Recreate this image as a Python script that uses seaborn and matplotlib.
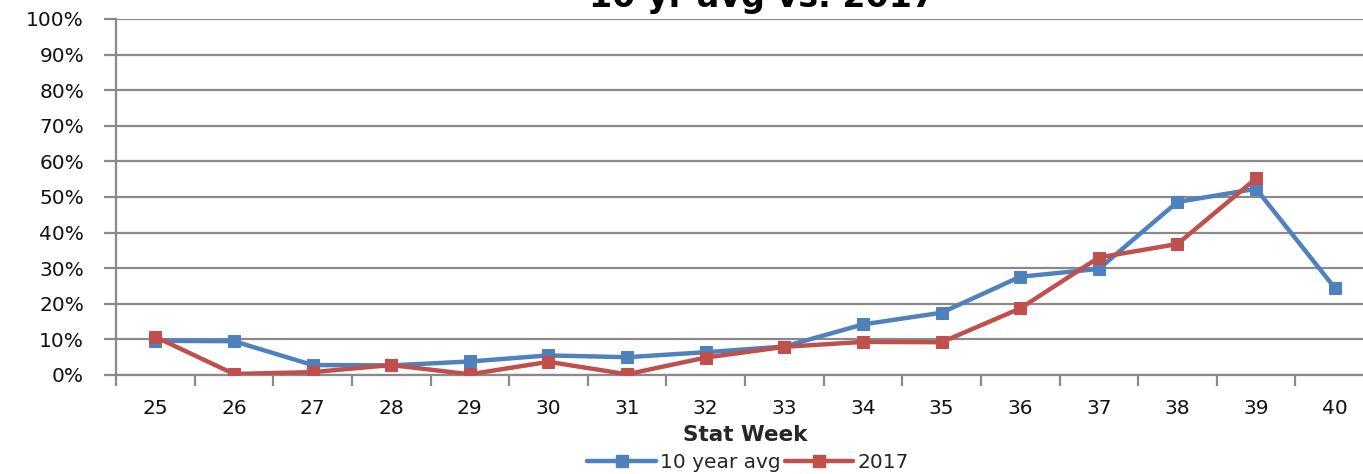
import numpy as np
import pandas as pd
import matplotlib
matplotlib.use("Agg")
import matplotlib.pyplot as plt
import seaborn as sns
from matplotlib.ticker import FixedLocator, PercentFormatter
from matplotlib.lines import Line2D

weeks = [25, 26, 27, 28, 29, 30, 31, 32, 33, 34, 35, 36, 37, 38, 39, 40]
avg10 = [9.6, 9.5, 2.8, 2.7, 3.8, 5.5, 5.0, 6.4, 8.0, 14.2, 17.5, 27.6, 29.8, 48.6, 52.3, 24.5]
y2017 = [10.7, 0.3, 0.8, 2.8, 0.2, 3.7, 0.2, 4.9, 7.9, 9.3, 9.2, 18.7, 33.0, 36.8, 55.2, np.nan]
series_names = ["10 year avg", "2017"]
colors = ["#4F81BD", "#C0504D"]

df = pd.DataFrame({
    "week": weeks * 2,
    "value": avg10 + y2017,
    "series": [series_names[0]] * len(weeks) + [series_names[1]] * len(weeks),
})

sns.set_theme(style="white")
plt.rcParams["font.family"] = ["DejaVu Sans"]

fig = plt.figure(figsize=(13.63, 4.74), dpi=100)
ax = fig.add_axes([116 / 1363, 1 - 375 / 474, (1374 - 116) / 1363, (375 - 19) / 474])

for name, c in zip(series_names, colors):
    sub = df[df["series"] == name].dropna()
    sns.lineplot(data=sub, x="week", y="value", ax=ax, color=c, linewidth=3.2,
                 marker="s", markersize=9, markeredgecolor=c, legend=False, zorder=3)

ax.set_xlim(24.5, 40.5)
ax.set_ylim(0, 100)
ax.yaxis.set_major_locator(FixedLocator(np.arange(0, 101, 10)))
ax.yaxis.set_major_formatter(PercentFormatter(decimals=0))
ax.grid(axis="y", color="#8a8a8a", linewidth=1.6)
ax.set_axisbelow(True)

ax.set_xticks(weeks)
ax.set_xticklabels([str(w) for w in weeks])
ax.set_xticks(np.arange(24.5, 41, 1), minor=True)
ax.tick_params(axis="x", which="major", length=0, pad=17, labelsize=14.5, colors="#111111")
ax.tick_params(axis="x", which="minor", length=8, width=1.6, color="#8a8a8a", direction="out")
ax.tick_params(axis="y", which="major", length=9, width=1.6, color="#8a8a8a",
               direction="out", labelsize=14.5, labelcolor="#111111", pad=14)
ax.tick_params(axis="both", which="both", bottom=True, left=True)

for s in ["top", "right"]:
    ax.spines[s].set_visible(False)
for s in ["left", "bottom"]:
    ax.spines[s].set_color("#8a8a8a")
    ax.spines[s].set_linewidth(1.6)

ax.set_xlabel("Stat Week", fontsize=15.5, fontweight="bold", labelpad=5)
ax.set_ylabel("")

fig.text(762 / 1363, 1 - 7 / 474, "10 yr avg vs. 2017", ha="center", va="baseline",
         fontsize=24, fontweight="bold", color="black")

handles = [Line2D([0], [0], color=c, linewidth=3.2, marker="s", markersize=9,
                  markeredgecolor=c) for c in colors]
fig.legend(handles, series_names, loc="center", bbox_to_anchor=(748 / 1363, 1 - 463 / 474),
           ncol=2, frameon=False, fontsize=14.5, handlelength=3.4, handletextpad=0.2,
           columnspacing=0.2, borderaxespad=0, borderpad=0)

fig.savefig("out.png", dpi=100)
